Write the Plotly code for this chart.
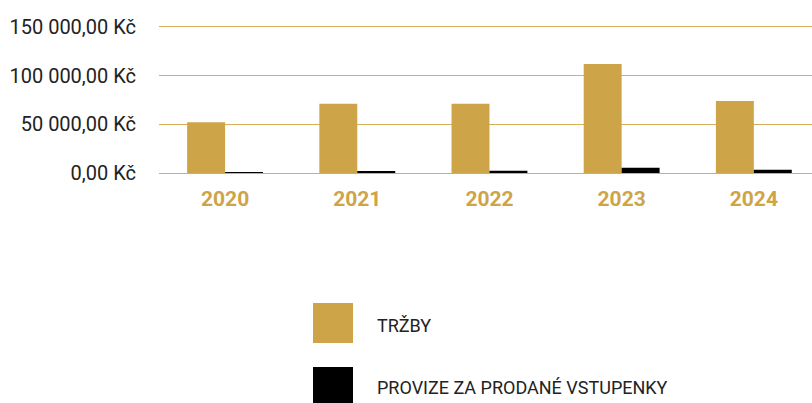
import plotly.graph_objects as go

years = ["2020", "2021", "2022", "2023", "2024"]
trzby = [52000, 71000, 71000, 112000, 74000]
provize = [1000, 2000, 2300, 5400, 3400]
series_names = ["TRŽBY", "PROVIZE ZA PRODANÉ VSTUPENKY"]
y_ticks = [0, 50000, 100000, 150000]
y_tick_labels = ["0,00 Kč", "50 000,00 Kč", "100 000,00 Kč", "150 000,00 Kč"]

GOLD = "#CDA448"
BLACK = "#000000"
GRID = "#D6AE5C"
FONT = "Roboto, sans-serif"

fig = go.Figure()
fig.add_trace(go.Bar(x=years, y=trzby, name=series_names[0], marker_color=GOLD,
                     marker_line_width=0, showlegend=False))
fig.add_trace(go.Bar(x=years, y=provize, name=series_names[1], marker_color=BLACK,
                     marker_line_width=0, showlegend=False))

L, R, T, B = 159, 0, 24, 230
PW, PH = 812 - L - R, 403 - T - B


def px(x):
    return (x - L) / PW


def py(y):
    return (403 - B - y) / PH


# manual legend (large square swatches)
legend_rows = [(series_names[0], GOLD, 323, 325), (series_names[1], BLACK, 387, 387)]
for name, col, yc, yt in legend_rows:
    fig.add_shape(type="rect", xref="paper", yref="paper",
                  x0=px(313), x1=px(353), y0=py(yc + 20), y1=py(yc - 20),
                  fillcolor=col, line_width=0, layer="above")
    fig.add_annotation(text=name, xref="paper", yref="paper",
                       x=px(375), y=py(yt), xanchor="left", yanchor="middle",
                       showarrow=False,
                       font=dict(family=FONT, size=18, color="#222222"))

fig.update_layout(
    width=812, height=403,
    margin=dict(l=L, r=R, t=T, b=B, autoexpand=False),
    paper_bgcolor="white", plot_bgcolor="white",
    barmode="group", bargap=0.426, bargroupgap=0,
    font=dict(family=FONT, color="#222222"),
    xaxis=dict(type="category", range=[-0.5, 4.44], showgrid=False,
               showline=False, zeroline=False, ticks="", automargin=False,
               ticklabelstandoff=11,
               tickfont=dict(family=FONT, size=21, color=GOLD, weight="bold")),
    yaxis=dict(range=[0, 153000], tickvals=y_ticks, ticktext=y_tick_labels,
               showgrid=True, gridcolor=GRID, gridwidth=1,
               zeroline=True, zerolinecolor=GRID, zerolinewidth=1,
               showline=False, ticks="", ticklabelstandoff=22, automargin=False,
               tickfont=dict(family=FONT, size=20, color="#222222")),
)

post = "document.body.style.margin = '0';"
fig.write_html("out.html", post_script=post, config={"displayModeBar": False})
